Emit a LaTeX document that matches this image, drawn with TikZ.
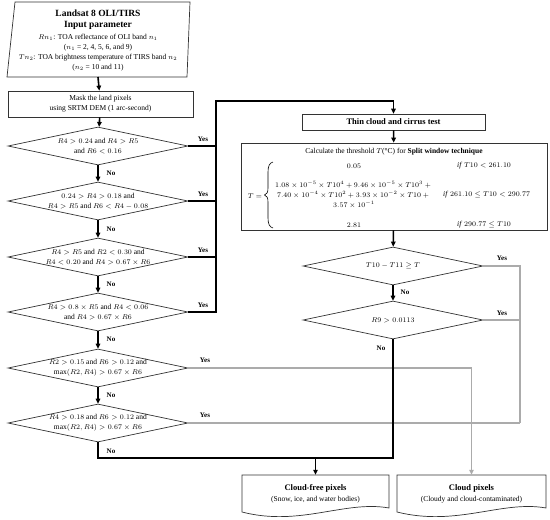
\documentclass[tikz,border=0pt]{standalone}
\usepackage{fontspec}
\setmainfont{Liberation Serif}
\usetikzlibrary{shapes.geometric,arrows.meta}
\begin{document}
\begin{tikzpicture}[x=1pt,y=-1pt,
  outl/.style={draw=black!80, line width=0.7pt},
  box/.style={outl, rectangle, inner sep=0pt},
  dia/.style={outl, diamond, minimum width=180pt, minimum height=38pt, inner sep=0pt},
  lbl/.style={font=\fontsize{7.5}{10}\selectfont, align=center, inner sep=0pt},
  fml/.style={font=\fontsize{7.5}{10}\selectfont, inner sep=0pt},
  ttl/.style={font=\fontsize{9.5}{11}\selectfont\bfseries, align=center, inner sep=0pt},
  yn/.style={font=\fontsize{7}{8}\selectfont\bfseries, inner sep=0pt},
  blk/.style={line width=1.6pt, black},
  gry/.style={line width=1.2pt, color=black!33},
  arr/.style={-{Triangle[length=5pt,width=4.5pt]}},
]
\useasboundingbox (0,0) rectangle (550,520);

% ---- input box
\draw[outl] (15,2) -- (190,2) -- (187,77) -- (7,77) -- cycle;
\node[ttl] (inpt) at (98,19.5) {Landsat 8 OLI/TIRS\\Input parameter};
\node[lbl] (inpx) at (98,52.5) {$Rn_1$: TOA reflectance of OLI band $n_1$\\($n_1$ = 2, 4, 5, 6, and 9)\\$Tn_2$: TOA brightness temperature of TIRS band $n_2$\\($n_2$ = 10 and 11)};
\coordinate (inpb) at (98,77);

\node[box, lbl, minimum width=185pt, minimum height=26pt] (mask) at (100.5,104) {Mask the land pixels\\using SRTM DEM (1 arc-second)};

% ---- left diamonds
\node[dia] (d1) at (98,146) {};
\node[lbl] (t1) at (d1) {$R4>0.24$ and $R4>R5$\\and $R6<0.16$};
\node[dia] (d2) at (98,201) {};
\node[lbl] (t2) at (d2) {$0.24>R4>0.18$ and\\$R4>R5$ and $R6<R4-0.08$};
\node[dia] (d3) at (98,257) {};
\node[lbl] (t3) at (d3) {$R4>R5$ and $R2<0.30$ and\\$R4<0.20$ and $R4>0.67\times R6$};
\node[dia] (d4) at (98,312) {};
\node[lbl] (t4) at (d4) {$R4>0.8\times R5$ and $R4<0.06$\\and $R4>0.67\times R6$};
\node[dia] (d5) at (98,368) {};
\node[lbl] (t5) at (d5) {$R2>0.15$ and $R6>0.12$ and\\$\max(R2,R4)>0.67\times R6$};
\node[dia] (d6) at (98,423) {};
\node[lbl] (t6) at (d6) {$R4>0.18$ and $R6>0.12$ and\\$\max(R2,R4)>0.67\times R6$};

% ---- right column
\node[box, minimum width=183pt, minimum height=16pt, font=\fontsize{8.5}{10}\selectfont\bfseries] (thin) at (393.5,122) {Thin cloud and cirrus test};
\node[box, minimum width=306pt, minimum height=87pt] (calc) at (394,186.5) {};
\node[fml] (ct) at (394,152) {Calculate the threshold $T$(°C) for \textbf{Split window technique}};
\node[fml] (teq) at (255,196) {$T=$};
\draw[line width=0.6pt] (273,162) .. controls (269.5,163) and (268,166) .. (268,172) -- (268,188)
  .. controls (268,192) and (267,194.5) .. (264.5,195) .. controls (267,195.5) and (268,198) .. (268,202)
  -- (268,218) .. controls (268,224) and (269.5,227) .. (273,228);
\node[fml] (c1) at (354,166) {$0.05$};
\node[fml] (c2a) at (354,185) {$1.08\times10^{-5}\times T10^4+9.46\times10^{-5}\times T10^3+{}$};
\node[fml] (c2b) at (354,195) {$7.40\times10^{-4}\times T10^2+3.93\times10^{-2}\times T10+{}$};
\node[fml] (c2c) at (354,205) {$3.57\times10^{-1}$};
\node[fml] (c3) at (354,225) {$2.81$};
\node[fml, anchor=west] (i1) at (457,166) {\textit{if} $T10<261.10$};
\node[fml, anchor=west] (i2) at (443,195) {\textit{if} $261.10\leq T10<290.77$};
\node[fml, anchor=west] (i3) at (457,225) {\textit{if} $290.77\leq T10$};

\node[dia] (dt) at (393,266) {};
\node[lbl] (tt) at (dt) {$T10-T11\geq T$};
\node[dia] (dr) at (393,320) {};
\node[lbl] (tr) at (dr) {$R9>0.0113$};

% ---- output boxes
\draw[outl] (242,475) -- (389,475) -- (389,508) .. controls (345,500) and (300,527) .. (242,512) -- cycle;
\node[inner sep=0pt, minimum width=147pt, minimum height=38pt] (cf) at (315.5,494) {};
\node[ttl, font=\fontsize{8.5}{10}\selectfont\bfseries] (cft) at (315.5,488) {Cloud-free pixels};
\node[lbl] (cfs) at (315.5,499.5) {(Snow, ice, and water bodies)};
\draw[outl] (397,475) -- (546,475) -- (546,508) .. controls (502,500) and (457,527) .. (397,512) -- cycle;
\node[inner sep=0pt, minimum width=149pt, minimum height=38pt] (cp) at (471.5,494) {};
\node[ttl, font=\fontsize{8.5}{10}\selectfont\bfseries] (cpt) at (471.5,488) {Cloud pixels};
\node[lbl] (cps) at (471.5,499.5) {(Cloudy and cloud-contaminated)};

% ---- gray connectors
\coordinate (gx) at (520,266);
\draw[gry] (dt.east) -- (dt.east -| gx) -- (gx |- d6.east);
\draw[gry] (dr.east) -- (dr.east -| gx);
\draw[gry] (d6.east) -- (d6.east -| gx);
\draw[gry,arr] (d5.east) -| (cp.north);

% ---- black connectors
\draw[blk,arr] (inpb) -- (mask);
\draw[blk,arr] (mask) -- (d1);
\draw[blk,arr] (d1) -- (d2);
\draw[blk,arr] (d2) -- (d3);
\draw[blk,arr] (d3) -- (d4);
\draw[blk,arr] (d4) -- (d5);
\draw[blk,arr] (d5) -- (d6);
\coordinate (vtop) at (216,101);
\draw[blk] (d1.east) -- (d1.east -| vtop);
\draw[blk] (d2.east) -- (d2.east -| vtop);
\draw[blk] (d3.east) -- (d3.east -| vtop);
\draw[blk,arr] (d4.east) -- (d4.east -| vtop) -- (vtop) -| (thin.north);
\draw[blk,arr] (thin) -- (calc);
\draw[blk,arr] (calc) -- (dt);
\draw[blk,arr] (dt) -- (dr);
\coordinate (bj) at (98,458);
\draw[blk] (d6.south) -- (bj) -- (bj -| dr.south) -- (dr.south);
\draw[blk,arr] (bj -| cf.north) -- (cf.north);

% ---- Yes / No labels
\node[yn] (y1) at (203,139) {Yes};
\node[yn] (y2) at (203,194) {Yes};
\node[yn] (y3) at (203,250) {Yes};
\node[yn] (y4) at (203,305) {Yes};
\node[yn] (y5) at (205,360) {Yes};
\node[yn] (y6) at (205,415) {Yes};
\node[yn] (y7) at (502,258) {Yes};
\node[yn] (y8) at (502,313) {Yes};
\node[yn] (n1) at (111,173) {No};
\node[yn] (n2) at (111,229) {No};
\node[yn] (n3) at (111,284) {No};
\node[yn] (n4) at (111,339) {No};
\node[yn] (n5) at (111,395) {No};
\node[yn] (n6) at (111,451) {No};
\node[yn] (n7) at (405,292) {No};
\node[yn] (n8) at (381,348) {No};
\end{tikzpicture}
\end{document}
